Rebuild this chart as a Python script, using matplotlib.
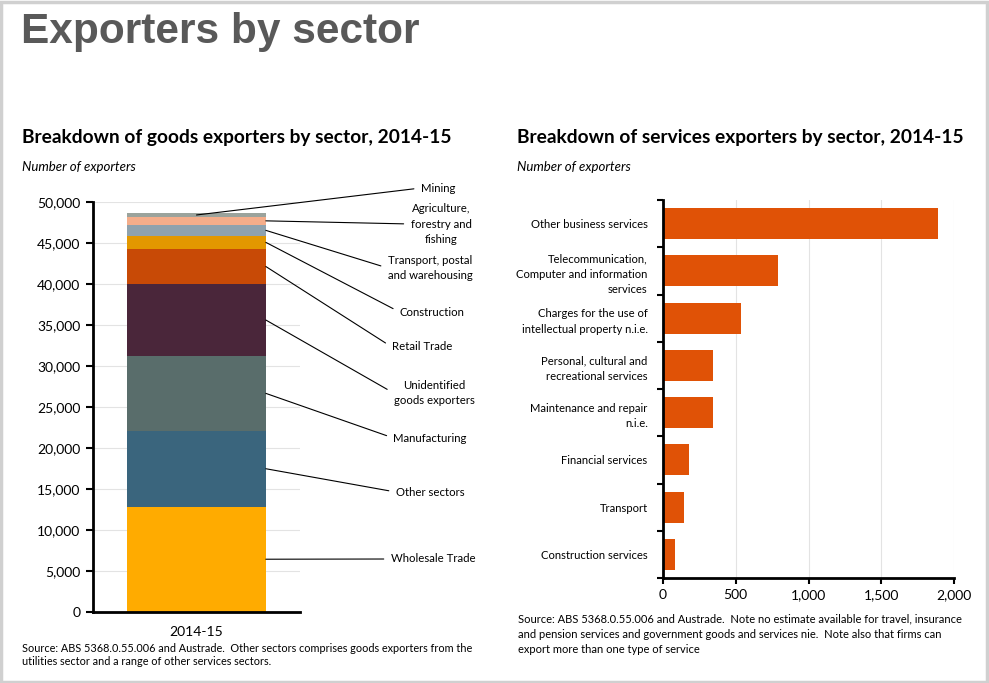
import numpy as np
from matplotlib import pyplot as plt
from matplotlib.patches import Rectangle
from matplotlib.ticker import FuncFormatter, FixedLocator

# goods exporters, stacked bottom -> top
goods_sectors = ['Wholesale Trade', 'Other sectors', 'Manufacturing',
                 'Unidentified\ngoods exporters', 'Retail Trade', 'Construction',
                 'Transport, postal\nand warehousing',
                 'Agriculture,\nforestry and\nfishing', 'Mining']
goods_values = [12800, 9270, 9110, 8780, 4270, 1620, 1310, 1010, 420]
goods_colors = ['#FFAB00', '#3A657D', '#596D6B', '#4A263A', '#C84A06',
                '#E39800', '#8FA2AD', '#F4AD8A', '#9BA39C']
goods_year = '2014-15'

# services exporters, top -> bottom
services = ['Other business services',
            'Telecommunication,\nComputer and information\nservices',
            'Charges for the use of\nintellectual property n.i.e.',
            'Personal, cultural and\nrecreational services',
            'Maintenance and repair\nn.i.e.', 'Financial services',
            'Transport', 'Construction services']
services_values = [1890, 787, 538, 346, 341, 176, 141, 80]

BODY = ['Lato', 'DejaVu Sans']
plt.rcParams['font.family'] = BODY

W, H = 989, 683
fig = plt.figure(figsize=(W / 100, H / 100), dpi=100)


def fx(px):
  return px / W


def fy(py):
  return 1 - py / H


fig.patches.append(Rectangle((0.0015, 0.002), 0.996, 0.995, transform=fig.transFigure,
                             fill=False, edgecolor='#d0d0d0', lw=2.5))

fig.text(fx(21), fy(32), 'Exporters by sector', fontsize=30.5, fontweight='bold',
         color='#595959', family='Liberation Sans', va='center')

fig.text(fx(22), fy(138), 'Breakdown of goods exporters by sector, 2014-15',
         fontsize=13.8, fontweight='bold', va='center')
fig.text(fx(22), fy(167), 'Number of exporters', fontsize=9.5, style='italic', va='center')
fig.text(fx(517), fy(138), 'Breakdown of services exporters by sector, 2014-15',
         fontsize=13.8, fontweight='bold', va='center')
fig.text(fx(517), fy(167), 'Number of exporters', fontsize=9.5, style='italic', va='center')

# ---- goods stacked column ----
ax1 = fig.add_axes([fx(93), fy(611.7), fx(300) - fx(93), fy(201.7) - fy(611.7)])
bottoms = np.concatenate([[0], np.cumsum(goods_values)[:-1]])
ax1.bar([0] * len(goods_values), goods_values, bottom=bottoms, width=0.67,
        color=goods_colors, zorder=2)
ax1.set_xlim(-0.5, 0.5)
ax1.set_ylim(0, 50000)
ax1.yaxis.set_major_locator(FixedLocator(np.arange(0, 50001, 5000)))
ax1.yaxis.set_major_formatter(FuncFormatter(lambda v, _: f'{int(v):,}'))
ax1.set_xticks([0])
ax1.set_xticklabels([goods_year], fontsize=10)
ax1.tick_params(axis='x', length=0, pad=10.5)
ax1.tick_params(axis='y', direction='out', length=5, width=1.5, labelsize=10, pad=4)
ax1.grid(axis='y', color='#e3e3e3', lw=0.8, zorder=0)
for s in ['top', 'right']:
  ax1.spines[s].set_visible(False)
for s in ['left', 'bottom']:
  ax1.spines[s].set_linewidth(2)

# label centres (figure px)
label_pos = [(433, 559), (430, 492), (430, 438), (434, 393), (422, 347),
             (432, 312), (430, 268), (441, 224), (438, 188)]
for i, (lab, val, bot) in enumerate(zip(goods_sectors, goods_values, bottoms)):
  mid = bot + val / 2
  xattach = 0.335 if i < len(goods_values) - 1 else 0.0
  tx, ty = label_pos[i]
  ax1.annotate(lab, xy=(xattach, mid), xycoords='data',
               xytext=(fx(tx), fy(ty)), textcoords='figure fraction',
               fontsize=8.2, ha='center', va='center', linespacing=1.5,
               annotation_clip=False,
               arrowprops=dict(arrowstyle='-', color='black', lw=0.8,
                               relpos=(0, 0.5), shrinkA=3, shrinkB=0))

fig.text(fx(22), fy(655), 'Source: ABS 5368.0.55.006 and Austrade.  Other sectors comprises '
         'goods exporters from the\nutilities sector and a range of other services sectors.',
         fontsize=7.85, va='center', linespacing=1.3)

# ---- services horizontal bars ----
ax2 = fig.add_axes([fx(663), fy(578), fx(954) - fx(663), fy(200) - fy(578)])
ypos = np.arange(len(services))
ax2.barh(ypos, services_values, height=0.66, color='#E05206', zorder=2)
ax2.set_ylim(len(services) - 0.5, -0.5)
ax2.set_xlim(0, 2000)
ax2.set_xticks([0, 500, 1000, 1500, 2000])
ax2.xaxis.set_major_formatter(FuncFormatter(lambda v, _: f'{int(v):,}'))
ax2.set_yticks(ypos)
ax2.set_yticklabels(services, fontsize=8.1, linespacing=1.5)
ax2.set_yticks(np.arange(-0.5, len(services), 1), minor=True)
ax2.tick_params(axis='y', which='major', length=0, pad=11)
ax2.tick_params(axis='y', which='minor', length=4, width=1.5, direction='out')
ax2.tick_params(axis='x', length=4, width=1.5, direction='out', labelsize=10, pad=4)
ax2.grid(axis='x', color='#e3e3e3', lw=0.8, zorder=0)
for s in ['top', 'right']:
  ax2.spines[s].set_visible(False)
for s in ['left', 'bottom']:
  ax2.spines[s].set_linewidth(2)

fig.text(fx(518), fy(634), 'Source: ABS 5368.0.55.006 and Austrade.  Note no estimate '
         'available for travel, insurance\nand pension services and government goods '
         'and services nie.  Note also that firms can\nexport more than one type of service',
         fontsize=8, va='center', linespacing=1.45)

plt.savefig('out.png', dpi=100)
